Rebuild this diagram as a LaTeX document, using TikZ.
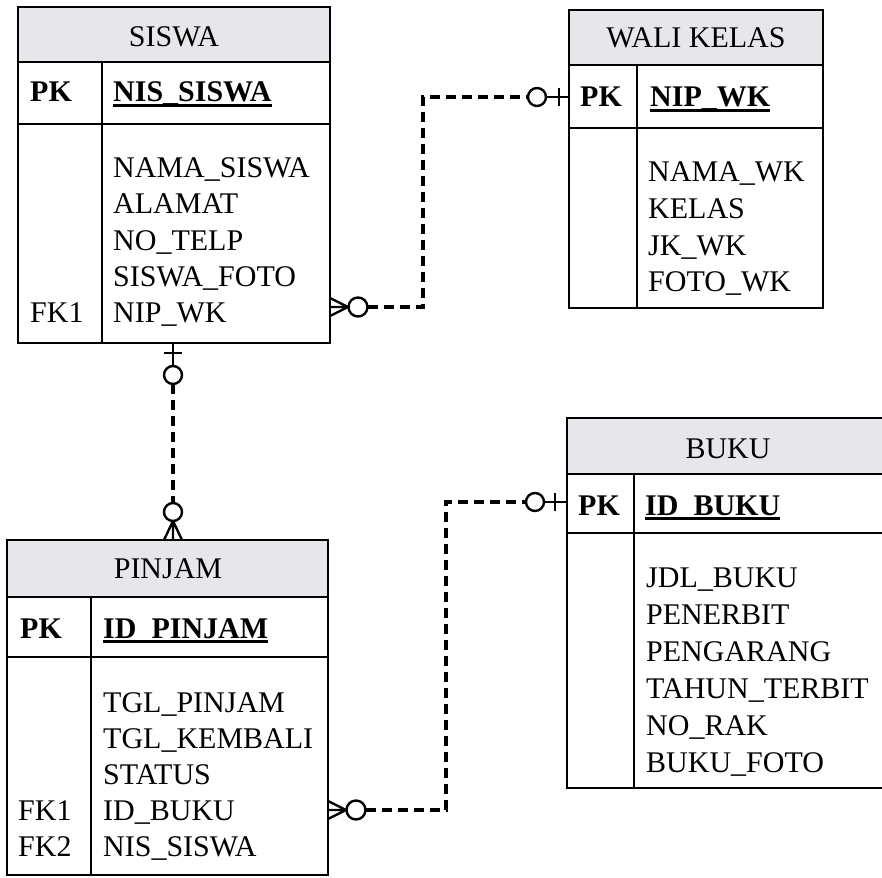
\documentclass[tikz,border=0pt]{standalone}
\usepackage{fontspec}
\setmainfont{Liberation Serif}
\usetikzlibrary{calc}
\definecolor{headgray}{RGB}{231,231,235}

% underline for primary key names
\newcommand\keyul[1]{\setbox0\hbox{#1}\rlap{\vrule width\wd0 height -2.2pt depth 4.6pt}\box0}

% entity box: name, left, top, right, bottom, header bottom, key row bottom, divider x
\newcommand\erdbox[8]{%
  \fill[headgray] (#2,#3) rectangle (#4,#6);
  \draw[rule] (#2,#6) -- (#4,#6);
  \draw[rule] (#2,#7) -- (#4,#7);
  \draw[rule] (#8,#6) -- (#8,#5);
  \node[frame, anchor=north west, minimum width={#4-#2}, minimum height={#5-#3}] (#1) at (#2,#3) {};
}

\begin{document}
\begin{tikzpicture}[x=1pt,y=-1pt,
  frame/.style={draw=black, line width=2pt, inner sep=0pt, outer sep=0pt},
  rule/.style={line width=2pt},
  txt/.style={anchor=base west, inner sep=0pt, font=\fontsize{30}{36}\selectfont},
  title/.style={anchor=base, inner sep=0pt, font=\fontsize{30}{36}\selectfont},
  rel/.style={line width=3.1pt, dash pattern=on 10pt off 6pt},
  endmark/.style={line width=2.4pt},
]
\useasboundingbox (0,0) rectangle (882,877);
\clip (0,0) rectangle (882,877);
\fill[white] (0,0) rectangle (882,877);

% ---------- SISWA ----------
\erdbox{siswa}{18}{7}{330}{343}{62}{124}{102}
\node[title] (siswa-t) at (174,47) {SISWA};
\node[txt] (siswa-pk) at (30,102) {\bfseries PK};
\node[txt] (siswa-k) at (113,102) {\bfseries\keyul{NIS\_SISWA}};
\foreach \t [count=\i from 0] in {NAMA\_SISWA, ALAMAT, NO\_TELP, SISWA\_FOTO, NIP\_WK}
  \node[txt] (siswa-a\i) at (113,178+36*\i) {\t};
\node[txt] (siswa-fk1) at (30,322) {FK1};

% ---------- WALI KELAS ----------
\erdbox{wali}{569}{10}{823}{308}{65}{128}{637}
\node[title] (wali-t) at (696,48) {WALI KELAS};
\node[txt] (wali-pk) at (580,107) {\bfseries PK};
\node[txt] (wali-k) at (650,107) {\bfseries\keyul{NIP\_WK}};
\foreach \t [count=\i from 0] in {NAMA\_WK, KELAS, JK\_WK, FOTO\_WK}
  \node[txt] (wali-a\i) at (648,182+36.5*\i) {\t};

% ---------- PINJAM ----------
\erdbox{pinjam}{7}{540}{328}{875}{597}{657}{91}
\node[title] (pinjam-t) at (168,578) {PINJAM};
\node[txt] (pinjam-pk) at (20,638) {\bfseries PK};
\node[txt] (pinjam-k) at (103,638) {\bfseries\keyul{ID\_PINJAM}};
\foreach \t [count=\i from 0] in {TGL\_PINJAM, TGL\_KEMBALI, STATUS, ID\_BUKU, NIS\_SISWA}
  \node[txt] (pinjam-a\i) at (103,712+36*\i) {\t};
\node[txt] (pinjam-fk1) at (18,820) {FK1};
\node[txt] (pinjam-fk2) at (18,856) {FK2};

% ---------- BUKU ----------
\erdbox{buku}{567}{418}{889}{788}{474}{533}{634}
\node[title] (buku-t) at (728,458) {BUKU};
\node[txt] (buku-pk) at (578,515) {\bfseries PK};
\node[txt] (buku-k) at (645,515) {\bfseries\keyul{ID\_BUKU}};
\foreach \t [count=\i from 0] in {JDL\_BUKU, PENERBIT, PENGARANG, TAHUN\_TERBIT, NO\_RAK, BUKU\_FOTO}
  \node[txt] (buku-a\i) at (646,587+37*\i) {\t};

% ---------- SISWA (many) -- WALI KELAS (one) ----------
\coordinate (s1) at (siswa.east |- 0,307);
\coordinate (w1) at (wali.west |- 0,97);
\draw[endmark] ($(s1)+(18,0)$) -- ($(s1)+(0,-9)$)
               ($(s1)+(18,0)$) -- (s1)
               ($(s1)+(18,0)$) -- ($(s1)+(0,9)$);
\draw[endmark] ($(s1)+(28,0)$) circle (9.5);
\draw[rel] ($(s1)+(38,0)$) -| (423,97) -- ($(w1)+(-41,0)$);
\draw[endmark] ($(w1)+(-32,0)$) circle (9);
\draw[endmark] ($(w1)+(-23,0)$) -- (w1);
\draw[endmark] ($(w1)+(-10,-9)$) -- ($(w1)+(-10,9)$);

% ---------- SISWA (one) -- PINJAM (many) ----------
\coordinate (s2) at (siswa.south -| 173,0);
\coordinate (p2) at (pinjam.north -| 173,0);
\draw[endmark] (s2) -- ($(s2)+(0,23)$);
\draw[endmark] ($(s2)+(-9,10)$) -- ($(s2)+(9,10)$);
\draw[endmark] ($(s2)+(0,32)$) circle (9);
\draw[rel] ($(s2)+(0,41)$) -- ($(p2)+(0,-37)$);
\draw[endmark] ($(p2)+(0,-28)$) circle (9);
\draw[endmark] ($(p2)+(0,-19)$) -- ($(p2)+(-9,0)$)
               ($(p2)+(0,-19)$) -- (p2)
               ($(p2)+(0,-19)$) -- ($(p2)+(9,0)$);

% ---------- PINJAM (many) -- BUKU (one) ----------
\coordinate (p3) at (pinjam.east |- 0,810);
\coordinate (b3) at (buku.west |- 0,502);
\draw[endmark] ($(p3)+(18,0)$) -- ($(p3)+(0,-9)$)
               ($(p3)+(18,0)$) -- (p3)
               ($(p3)+(18,0)$) -- ($(p3)+(0,9)$);
\draw[endmark] ($(p3)+(28,0)$) circle (9.5);
\draw[rel] ($(p3)+(38,0)$) -| (446,502) -- ($(b3)+(-41,0)$);
\draw[endmark] ($(b3)+(-32,0)$) circle (9);
\draw[endmark] ($(b3)+(-23,0)$) -- (b3);
\draw[endmark] ($(b3)+(-12,-9)$) -- ($(b3)+(-12,9)$);
\end{tikzpicture}
\end{document}
